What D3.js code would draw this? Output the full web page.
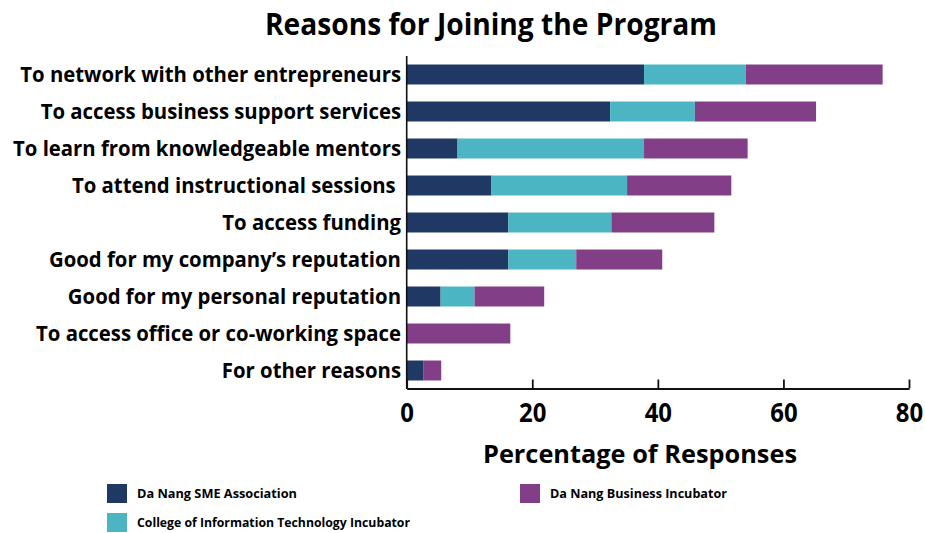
<!DOCTYPE html>
<html>
<head>
<meta charset="utf-8">
<script src="https://cdn.jsdelivr.net/npm/d3@7"></script>
<style>
  html, body { margin: 0; padding: 0; background: #fff; }
  svg text { font-family: "Open Sans", sans-serif; font-weight: bold; fill: #000; }
</style>
</head>
<body>
<svg id="chart" width="925" height="533"></svg>
<script>
// Reasons given for joining, percentage of responses per programme
const categories = [
  "To network with other entrepreneurs",
  "To access business support services",
  "To learn from knowledgeable mentors",
  "To attend instructional sessions ",
  "To access funding",
  "Good for my company\u2019s reputation",
  "Good for my personal reputation",
  "To access office or co-working space",
  "For other reasons"
];
const seriesNames = [
  "Da Nang SME Association",
  "College of Information Technology Incubator",
  "Da Nang Business Incubator"
];
const smeAssociation = [37.8, 32.4, 8.1, 13.5, 16.2, 16.2, 5.4, 0, 2.7];
const citIncubator   = [16.2, 13.5, 29.7, 21.6, 16.4, 10.8, 5.4, 0, 0];
const businessIncub  = [21.8, 19.3, 16.5, 16.6, 16.4, 13.7, 11.1, 16.5, 2.8];
const xTicks = [0, 20, 40, 60, 80];
const colors = ["#1F3864", "#4BB5C4", "#823E87"];

const rows = categories.map((c, i) => ({
  category: c,
  [seriesNames[0]]: smeAssociation[i],
  [seriesNames[1]]: citIncubator[i],
  [seriesNames[2]]: businessIncub[i]
}));

const svg = d3.select("#chart");
const x = d3.scaleLinear().domain([0, 80]).range([406.7, 909]);
const y = d3.scaleBand().domain(categories).range([56, 389])
  .paddingInner(0.46).paddingOuter(0.23);
const color = d3.scaleOrdinal().domain(seriesNames).range(colors);

// horizontally fit a text element to a given width
function fit(sel, width) {
  sel.attr("textLength", width).attr("lengthAdjust", "spacingAndGlyphs");
}

// title
svg.append("text")
  .attr("x", 491).attr("y", 34.5)
  .attr("text-anchor", "middle")
  .style("font-size", "30px")
  .text("Reasons for Joining the Program")
  .call(fit, 452);

// stacked bars
const stacked = d3.stack().keys(seriesNames)(rows);
svg.append("g").selectAll("g")
  .data(stacked).join("g")
  .attr("fill", d => color(d.key))
  .selectAll("rect")
  .data(d => d).join("rect")
  .attr("x", d => x(d[0]))
  .attr("width", d => x(d[1]) - x(d[0]))
  .attr("y", d => y(d.data.category))
  .attr("height", y.bandwidth());

// category labels
const labels = svg.append("g").selectAll("text")
  .data(categories).join("text")
  .attr("x", 401)
  .attr("y", d => y(d) + y.bandwidth() / 2 + 7.5)
  .attr("text-anchor", "end")
  .style("font-size", "21px")
  .style("white-space", "pre")
  .text(d => d);
const refWidth = labels.filter((d, i) => i === 2).node().getComputedTextLength();
const ratio = 388 / refWidth;
labels.each(function() {
  const w = this.getComputedTextLength();
  d3.select(this).call(fit, w * ratio);
});

// left axis line
svg.append("line")
  .attr("x1", x(0)).attr("x2", x(0))
  .attr("y1", 56).attr("y2", 389)
  .attr("stroke", "#111").attr("stroke-width", 1.6);

// bottom axis
const xAxis = d3.axisBottom(x).tickValues(xTicks)
  .tickSizeInner(-9).tickSizeOuter(0).tickPadding(0);
const gx = svg.append("g")
  .attr("transform", "translate(0,388.5)")
  .call(xAxis);
gx.select(".domain").attr("stroke", "#111").attr("stroke-width", 1.8);
gx.selectAll(".tick line").attr("stroke", "#111").attr("stroke-width", 1.8);
gx.selectAll(".tick text")
  .attr("y", 33.5).attr("dy", 0)
  .attr("fill", "#000")
  .style("font-family", "'Open Sans', sans-serif")
  .style("font-weight", "bold")
  .style("font-size", "26px")
  .each(function() {
    const w = this.getComputedTextLength();
    d3.select(this).call(fit, w * 0.92);
  });

// axis title
svg.append("text")
  .attr("x", 640).attr("y", 463)
  .attr("text-anchor", "middle")
  .style("font-size", "25px")
  .text("Percentage of Responses")
  .call(fit, 314);

// legend
const legendItems = [
  { name: seriesNames[0], sx: 107, sy: 484, tw: 160 },
  { name: seriesNames[2], sx: 520, sy: 484, tw: 177 },
  { name: seriesNames[1], sx: 107, sy: 513, tw: 273 }
];
const lg = svg.append("g").selectAll("g")
  .data(legendItems).join("g")
  .attr("transform", d => `translate(${d.sx},${d.sy})`);
lg.append("rect")
  .attr("width", 20).attr("height", 19)
  .attr("fill", d => color(d.name));
lg.append("text")
  .attr("x", 30).attr("y", 14.3)
  .style("font-size", "13px")
  .text(d => d.name)
  .each(function(d) { d3.select(this).call(fit, d.tw); });
</script>
</body>
</html>
